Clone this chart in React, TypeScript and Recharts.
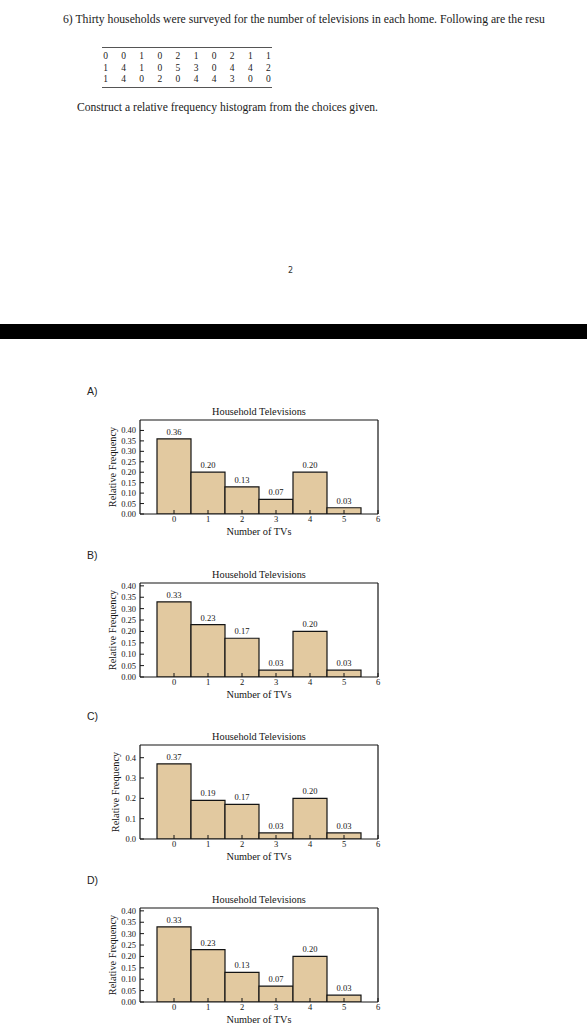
import React from 'react';
import { BarChart, Bar, XAxis, YAxis, LabelList, Label } from 'recharts';

// ---- data ----
const tvCounts = [0, 1, 2, 3, 4, 5];
const freqA = [0.36, 0.2, 0.13, 0.07, 0.2, 0.03];
const freqB = [0.33, 0.23, 0.17, 0.03, 0.2, 0.03];
const freqC = [0.37, 0.19, 0.17, 0.03, 0.2, 0.03];
const freqD = [0.33, 0.23, 0.13, 0.07, 0.2, 0.03];
const xTicks = [0, 1, 2, 3, 4, 5, 6];
const yTicksFine = [0, 0.05, 0.1, 0.15, 0.2, 0.25, 0.3, 0.35, 0.4];
const yTicksCoarse = [0, 0.1, 0.2, 0.3, 0.4];
const surveyRow1 = [0, 0, 1, 0, 2, 1, 0, 2, 1, 1];
const surveyRow2 = [1, 4, 1, 0, 5, 3, 0, 4, 4, 2];
const surveyRow3 = [1, 4, 0, 2, 0, 4, 4, 3, 0, 0];
const headerText =
  '6) Thirty households were surveyed for the number of televisions in each home. Following are the resu';
const instructionText = 'Construct a relative frequency histogram from the choices given.';
const chartTitle = 'Household Televisions';
const xTitle = 'Number of TVs';
const yTitle = 'Relative Frequency';

const SERIF = '"Liberation Serif", "Times New Roman", serif';
const SANS = '"Liberation Sans", Arial, sans-serif';
const INK = '#141414';
const FILL = '#e2c9a0';

type HistProps = {
  values: number[];
  yMax: number;
  yTicks: number[];
  digits: number;
  plotTop: number;
  yLabelX: number;
};

function Histogram({ values, yMax, yTicks, digits, plotTop, yLabelX }: HistProps) {
  const data = tvCounts.map((x, i) => ({ x, f: values[i] }));
  const W = 330;
  const H = 160;
  const axisStyle = { stroke: INK, strokeWidth: 1.2 };
  const tickLineStyle = { stroke: INK, strokeWidth: 1 };
  const tickFont = { fill: INK, fontSize: 8.5, fontFamily: SERIF };
  return (
    <div style={{ position: 'absolute', left: 60, top: plotTop - 30 }}>
      <BarChart
        width={W}
        height={H}
        data={data}
        margin={{ top: 29, right: 11, bottom: 6, left: 0 }}
        barCategoryGap={0}
        barGap={0}
      >
        <XAxis
          xAxisId="b"
          type="number"
          dataKey="x"
          domain={[-1, 6]}
          ticks={xTicks}
          interval={0}
          allowDataOverflow
          height={30}
          tickSize={-4}
          tickMargin={6}
          axisLine={axisStyle}
          tickLine={tickLineStyle}
          tick={tickFont}
        >
          <Label
            content={(p: any) => {
              const vb = p.viewBox || {};
              const cx = vb.x + vb.width / 2;
              return (
                <text
                  x={cx}
                  y={vb.y + 17}
                  textAnchor="middle"
                  dominantBaseline="central"
                  fontFamily={SERIF}
                  fontSize={10.3}
                  fill={INK}
                >
                  {xTitle}
                </text>
              );
            }}
          />
        </XAxis>
        <XAxis
          xAxisId="t"
          orientation="top"
          type="number"
          dataKey="x"
          domain={[-1, 6]}
          ticks={xTicks}
          interval={0}
          allowDataOverflow
          height={1}
          tickSize={-4}
          tick={false}
          axisLine={axisStyle}
          tickLine={tickLineStyle}
        >
          <Label
            content={(p: any) => {
              const vb = p.viewBox || {};
              const cx = vb.x + vb.width / 2;
              return (
                <text
                  x={cx}
                  y={vb.y + vb.height - 9}
                  textAnchor="middle"
                  dominantBaseline="central"
                  fontFamily={SERIF}
                  fontSize={10.3}
                  fill={INK}
                >
                  {chartTitle}
                </text>
              );
            }}
          />
        </XAxis>
        <YAxis
          yAxisId="l"
          type="number"
          domain={[0, yMax]}
          ticks={yTicks}
          interval={0}
          allowDataOverflow
          width={80}
          tickSize={-4}
          tickMargin={8}
          axisLine={axisStyle}
          tickLine={tickLineStyle}
          tick={tickFont}
          tickFormatter={(v: number) => v.toFixed(digits)}
        >
          <Label
            content={(p: any) => {
              const vb = p.viewBox || {};
              const cx = yLabelX;
              const cy = vb.y + vb.height / 2;
              return (
                <text
                  x={cx}
                  y={cy}
                  transform={`rotate(-90 ${cx} ${cy})`}
                  textAnchor="middle"
                  dominantBaseline="central"
                  fontFamily={SERIF}
                  fontSize={10.3}
                  fill={INK}
                >
                  {yTitle}
                </text>
              );
            }}
          />
        </YAxis>
        <YAxis
          yAxisId="r"
          orientation="right"
          type="number"
          domain={[0, yMax]}
          ticks={yTicks}
          interval={0}
          allowDataOverflow
          width={1}
          tickSize={-4}
          tick={false}
          axisLine={axisStyle}
          tickLine={tickLineStyle}
        />
        <Bar
          dataKey="f"
          xAxisId="b"
          yAxisId="l"
          fill={FILL}
          stroke={INK}
          strokeWidth={1.2}
          isAnimationActive={false}
        >
          <LabelList
            dataKey="f"
            position="top"
            offset={4}
            formatter={(v: any) => Number(v).toFixed(2)}
            style={{ fill: INK, fontSize: 8.5, fontFamily: SERIF }}
          />
        </Bar>
      </BarChart>
    </div>
  );
}

function PanelLetter({ text, y }: { text: string; y: number }) {
  return (
    <div
      style={{
        position: 'absolute',
        left: 87,
        top: y - 7,
        fontFamily: SANS,
        fontSize: 10.5,
        lineHeight: '14px',
        color: '#222',
      }}
    >
      {text}
    </div>
  );
}

function SurveyTable() {
  const rows = [surveyRow1, surveyRow2, surveyRow3];
  const colW = 18.1;
  return (
    <div
      style={{
        position: 'absolute',
        left: 102,
        top: 47,
        width: 170,
        height: 39,
        borderTop: '1.4px solid #555',
        borderBottom: '1.4px solid #555',
      }}
    >
      {rows.map((r, ri) => (
        <div
          key={ri}
          style={{ position: 'absolute', top: 2 + ri * 11.5, left: 0, height: 12, width: 170 }}
        >
          {r.map((d, ci) => (
            <span
              key={ci}
              style={{
                position: 'absolute',
                left: 3.5 + ci * colW - 5,
                width: 10,
                textAlign: 'center',
                fontFamily: SERIF,
                fontSize: 9.5,
                lineHeight: '12px',
                color: '#222',
              }}
            >
              {d}
            </span>
          ))}
        </div>
      ))}
    </div>
  );
}

export default function App() {
  return (
    <div
      style={{
        position: 'absolute',
        left: 0,
        top: 0,
        width: 587,
        height: 1024,
        background: '#fff',
        overflow: 'hidden',
      }}
    >
      <div
        style={{
          position: 'absolute',
          left: 63,
          top: 13,
          whiteSpace: 'nowrap',
          fontFamily: SERIF,
          fontSize: 11.7,
          lineHeight: '14px',
          color: '#1a1a1a',
        }}
      >
        {headerText}
      </div>
      <SurveyTable />
      <div
        style={{
          position: 'absolute',
          left: 77,
          top: 101,
          whiteSpace: 'nowrap',
          fontFamily: SERIF,
          fontSize: 11.6,
          lineHeight: '14px',
          color: '#1a1a1a',
        }}
      >
        {instructionText}
      </div>
      <div
        style={{
          position: 'absolute',
          left: 288,
          top: 265,
          fontFamily: '"DejaVu Sans", sans-serif',
          fontSize: 8,
          lineHeight: '12px',
          color: '#333',
        }}
      >
        2
      </div>
      <div
        style={{ position: 'absolute', left: 0, top: 324, width: 587, height: 15, background: '#000' }}
      />

      <PanelLetter text="A)" y={391} />
      <Histogram values={freqA} yMax={0.45} yTicks={yTicksFine} digits={2} plotTop={420} yLabelX={52} />

      <PanelLetter text="B)" y={555} />
      <Histogram values={freqB} yMax={0.4125} yTicks={yTicksFine} digits={2} plotTop={583} yLabelX={52} />

      <PanelLetter text="C)" y={716} />
      <Histogram values={freqC} yMax={0.4625} yTicks={yTicksCoarse} digits={1} plotTop={745} yLabelX={55} />

      <PanelLetter text="D)" y={880} />
      <Histogram values={freqD} yMax={0.4125} yTicks={yTicksFine} digits={2} plotTop={908} yLabelX={52} />
    </div>
  );
}
